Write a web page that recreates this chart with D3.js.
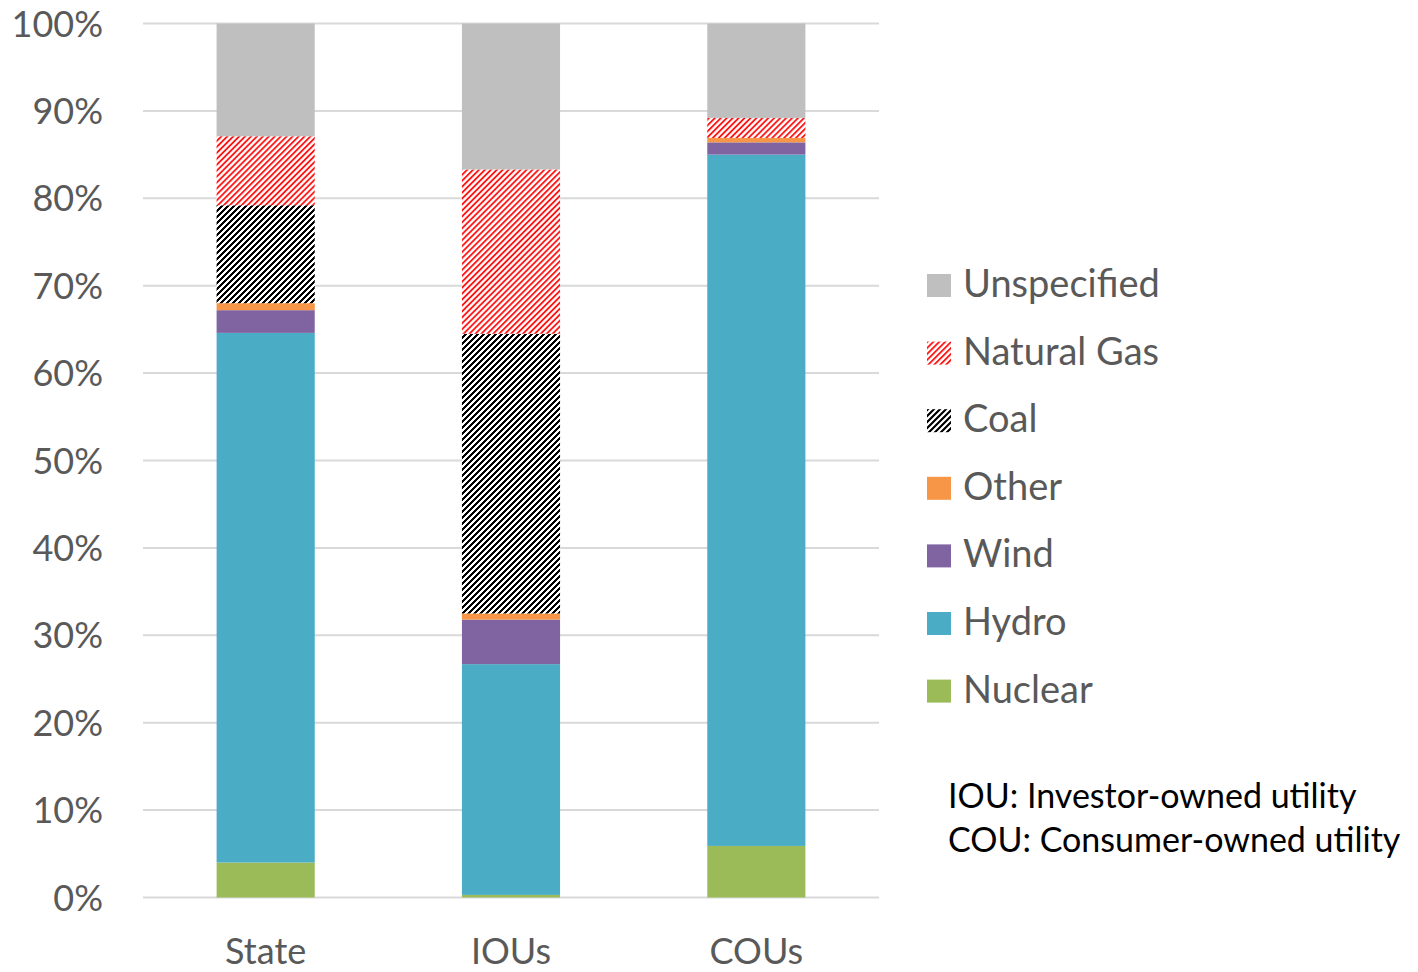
<!DOCTYPE html>
<html>
<head>
<meta charset="utf-8">
<script src="https://cdn.jsdelivr.net/npm/d3@7"></script>
<style>
  body { margin: 0; background: #fff; }
  text { font-family: Lato, "Open Sans", sans-serif; }
</style>
</head>
<body>
<div id="main"></div>
<script>
const width = 1418;
const height = 972;

// values in percent, bottom to top
const categories = ["State", "IOUs", "COUs"];
const seriesNames = ["Nuclear", "Hydro", "Wind", "Other", "Coal", "Natural Gas", "Unspecified"];
const nuclear = [4.0, 0.3, 5.9];
const hydro = [60.6, 26.4, 79.1];
const wind = [2.6, 5.1, 1.4];
const other = [0.8, 0.7, 0.5];
const coal = [11.2, 32.0, 0];
const naturalGas = [7.9, 18.8, 2.3];
const unspecified = [12.9, 16.7, 10.8];
const yTicks = [0, 10, 20, 30, 40, 50, 60, 70, 80, 90, 100];
const notes = ["IOU: Investor-owned utility", "COU: Consumer-owned utility"];

const seriesValues = [nuclear, hydro, wind, other, coal, naturalGas, unspecified];

const rows = categories.map((c, i) => {
  const row = { category: c };
  seriesNames.forEach((s, j) => (row[s] = seriesValues[j][i]));
  return row;
});

const fills = {
  "Nuclear": "#9BBB59",
  "Hydro": "#4BACC6",
  "Wind": "#8064A2",
  "Other": "#F79646",
  "Coal": "url(#coal)",
  "Natural Gas": "url(#gas)",
  "Unspecified": "#BFBFBF",
};

const svg = d3.select("#main").append("svg").attr("width", width).attr("height", height);

// hatch fills
const defs = svg.append("defs");
const coalPat = defs.append("pattern")
  .attr("id", "coal").attr("patternUnits", "userSpaceOnUse")
  .attr("width", 6).attr("height", 6);
coalPat.append("rect").attr("width", 6).attr("height", 6).attr("fill", "#fff");
for (let px = 0; px < 6; px++) {
  for (let py = 0; py < 6; py++) {
    if ((px + py) % 6 < 3) {
      coalPat.append("rect").attr("x", px).attr("y", py).attr("width", 1).attr("height", 1)
        .attr("fill", "#000").attr("shape-rendering", "crispEdges");
    }
  }
}
const gasPat = defs.append("pattern")
  .attr("id", "gas").attr("patternUnits", "userSpaceOnUse")
  .attr("width", 4.2).attr("height", 4.2)
  .attr("patternTransform", "rotate(45)");
gasPat.append("rect").attr("width", 4.2).attr("height", 4.2).attr("fill", "#fff");
gasPat.append("line")
  .attr("x1", 1).attr("x2", 1).attr("y1", 0).attr("y2", 4.2)
  .attr("stroke", "#FF0000").attr("stroke-width", 1.7);

const x = d3.scaleBand().domain(categories).range([143, 879]).paddingInner(0.6).paddingOuter(0.3);
const y = d3.scaleLinear().domain([0, 100]).range([897.5, 23.5]);

// gridlines
svg.append("g")
  .selectAll("line")
  .data(yTicks)
  .enter()
  .append("line")
  .attr("x1", 143).attr("x2", 879)
  .attr("y1", (d) => y(d)).attr("y2", (d) => y(d))
  .attr("stroke", "#D9D9D9").attr("stroke-width", 2);

svg.append("g")
  .selectAll("text")
  .data(yTicks)
  .enter()
  .append("text")
  .attr("x", 103)
  .attr("y", (d) => y(d) + 13)
  .attr("text-anchor", "end")
  .attr("fill", "#595959")
  .style("font-size", "36px")
  .text((d) => d + "%");

const stacked = d3.stack().keys(seriesNames)(rows);

svg.append("g")
  .selectAll("g")
  .data(stacked)
  .enter()
  .append("g")
  .attr("fill", (s) => fills[s.key])
  .selectAll("rect")
  .data((s) => s)
  .enter()
  .append("rect")
  .attr("x", (d) => x(d.data.category))
  .attr("width", x.bandwidth())
  .attr("y", (d) => y(d[1]))
  .attr("height", (d) => y(d[0]) - y(d[1]));

svg.append("g")
  .selectAll("text")
  .data(categories)
  .enter()
  .append("text")
  .attr("x", (d) => x(d) + x.bandwidth() / 2)
  .attr("y", 964)
  .attr("text-anchor", "middle")
  .attr("fill", "#595959")
  .style("font-size", "36px")
  .text((d) => d);

// legend, top entry is the top of the stack
const legendNames = seriesNames.slice().reverse();
const legend = svg.append("g")
  .selectAll("g")
  .data(legendNames)
  .enter()
  .append("g")
  .attr("transform", (d, i) => `translate(927, ${297 + i * 67.6})`);

legend.append("rect")
  .attr("x", 0).attr("y", -23)
  .attr("width", 24).attr("height", 23)
  .attr("fill", (d) => fills[d]);

legend.append("text")
  .attr("x", 36)
  .attr("y", 0)
  .attr("fill", "#595959")
  .style("font-size", "38px")
  .text((d) => d);

svg.append("g")
  .selectAll("text")
  .data(notes)
  .enter()
  .append("text")
  .attr("x", 948)
  .attr("y", (d, i) => 808 + i * 44)
  .attr("fill", "#000")
  .style("font-size", "34px")
  .text((d) => d);
</script>
</body>
</html>
